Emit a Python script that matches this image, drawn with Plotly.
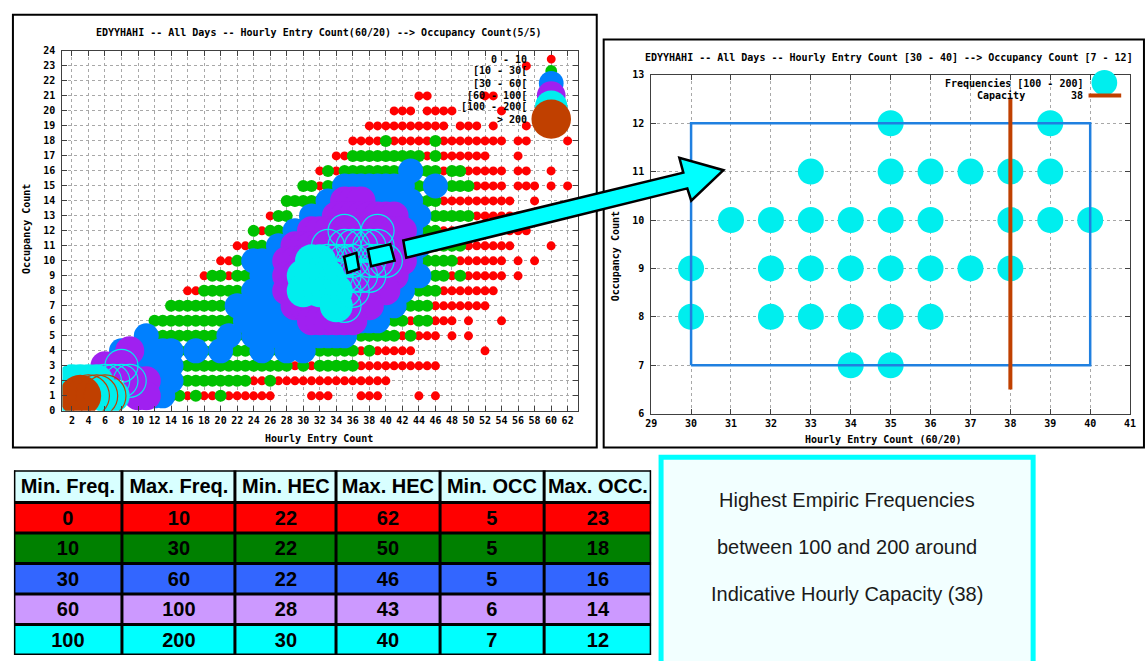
import plotly.graph_objects as go

W, H = 1146, 661

# ---------------- data: left chart (occupancy row, hourly entry counts) ----------------
RED_ROWS = [
    (23, [57]),
    (21, [44, 45, 52, 53]),
    (20, [41, 42, 43, 45, 46, 47, 48, 54]),
    (19, [38, 39, 40, 41, 42, 43, 44, 45, 46, 47, 49, 50, 51, 53, 57]),
    (18, [36, 37, 38, 39, 41, 42, 43, 44, 45, 47, 48, 49, 50, 51, 52, 53, 54, 56, 57, 62]),
    (17, [34, 35, 45, 47, 48, 49, 50, 51, 52, 56]),
    (16, [32, 34, 47, 50, 51, 52, 53, 54, 56, 57, 60]),
    (15, [32, 51, 52, 53, 54, 56, 57, 58, 60, 62]),
    (14, [47, 48, 49, 50, 51, 52, 53, 54, 55, 58]),
    (13, [26, 51, 52, 53, 54, 55, 56]),
    (12, [25, 47, 48, 49, 50, 51, 52, 53, 54, 55, 56, 57]),
    (11, [22, 23, 50, 51, 52, 53, 54, 55, 60]),
    (10, [20, 21, 49, 50, 51, 52, 53, 54, 56, 58]),
    (9, [18, 21, 48, 50, 51, 52, 53, 54, 56]),
    (8, [16, 17, 47, 48, 49, 50, 51, 52, 53]),
    (7, [46, 47, 48, 49, 50, 51, 52]),
    (6, [43, 46, 47, 48, 50, 54]),
    (5, [42, 44, 45, 46, 48, 50]),
    (4, [37, 39, 40, 41, 42, 43, 52]),
    (3, [29, 31, 37, 38, 39, 40, 41, 42, 43, 44, 45, 46]),
    (2, [24, 25, 27, 28, 29, 30, 31, 32, 33, 34, 35, 36, 37, 38, 39, 40]),
    (1, [16, 18, 19, 21, 22, 23, 24, 25, 26, 31, 32, 33, 37, 38, 39, 44, 46]),
]
GREEN_ROWS = [
    (18, [40, 46]),
    (17, [36, 37, 38, 39, 40, 41, 42, 43, 44, 46]),
    (16, [33, 35, 36, 37, 38, 39, 40, 41, 42, 43, 44, 45, 46, 48, 49]),
    (15, [30, 31, 33, 34, 43, 44, 45, 48, 49, 50]),
    (14, [28, 29, 30, 31, 32, 44, 45, 46]),
    (13, [27, 28, 46, 47, 48, 49, 50]),
    (12, [24, 26, 27, 44, 45, 46]),
    (11, [24, 25, 46, 47, 48, 49]),
    (10, [22, 45, 46, 47, 48]),
    (9, [19, 20, 22, 23, 46, 47, 49]),
    (8, [18, 19, 20, 21, 22, 44, 45, 46]),
    (7, [14, 15, 16, 17, 18, 19, 20, 41, 42, 43, 44, 45]),
    (6, [12, 13, 14, 15, 16, 17, 18, 19, 20, 21, 40, 41, 42, 44, 45]),
    (5, [12, 13, 14, 15, 16, 17, 18, 19, 20, 22, 23, 37, 38, 39, 40, 41, 43]),
    (4, [15, 16, 18, 19, 21, 22, 23, 24, 26, 27, 29, 31, 32, 33, 34, 35, 36, 38]),
    (3, [15, 16, 17, 18, 19, 20, 21, 22, 23, 24, 25, 26, 27, 28, 30, 32, 33, 34, 35, 36]),
    (2, [15, 16, 17, 18, 19, 20, 21, 22, 23, 26]),
    (1, [14, 15, 17, 20]),
]
BLUE_ROWS = [
    (16, [43]),
    (15, [35, 36, 37, 38, 39, 40, 41, 42, 46]),
    (14, [33, 34, 35, 36, 37, 38, 39, 40, 41, 42, 43]),
    (13, [31, 32, 33, 34, 35, 36, 37, 38, 39, 40, 41, 42, 43, 44]),
    (12, [29, 30, 31, 32, 33, 34, 35, 36, 37, 38, 39, 40, 41, 42, 43]),
    (11, [27, 28, 29, 30, 31, 32, 33, 34, 35, 36, 37, 38, 39, 40, 41, 42, 43, 44]),
    (10, [24, 25, 26, 27, 28, 29, 30, 31, 32, 33, 34, 35, 36, 37, 38, 39, 40, 41, 42, 43]),
    (9, [25, 26, 27, 28, 29, 30, 31, 32, 33, 34, 35, 36, 37, 38, 39, 40, 41, 42, 43, 44]),
    (8, [24, 25, 26, 27, 28, 29, 30, 31, 32, 33, 34, 35, 36, 37, 38, 39, 40, 41, 42]),
    (7, [22, 23, 24, 25, 26, 27, 28, 29, 30, 31, 32, 33, 34, 35, 36, 37, 38, 39, 40, 41]),
    (6, [23, 24, 25, 26, 27, 28, 29, 30, 31, 32, 33, 34, 35, 36, 37, 38, 39]),
    (5, [11, 21, 24, 25, 26, 27, 28, 29, 30, 31, 32, 33, 34, 35]),
    (4, [8, 10, 11, 12, 13, 14, 17, 20, 25, 28, 30]),
    (3, [11, 12, 13, 14]),
    (2, [12, 13, 14]),
    (1, [12, 13]),
]
PURPLE_ROWS = [
    (14, [35, 36, 37]),
    (13, [34, 35, 36, 37, 38, 39, 40, 41]),
    (12, [31, 32, 33, 34, 35, 36, 37, 38, 39, 40, 41, 42]),
    (11, [29, 30, 31, 32, 33, 34, 35, 36, 37, 38, 39, 40, 41, 42]),
    (10, [28, 29, 30, 31, 32, 33, 34, 35, 36, 37, 38, 39, 40, 41, 42]),
    (9, [28, 29, 30, 31, 32, 33, 34, 35, 36, 37, 38, 39, 40, 41]),
    (8, [28, 29, 30, 31, 32, 33, 34, 35, 36, 37, 38, 39, 40]),
    (7, [29, 30, 31, 32, 33, 34, 35, 36, 37, 38]),
    (6, [31, 32, 33, 34, 35, 36]),
    (4, [9]),
    (3, [6, 7, 8]),
    (2, [10, 11]),
    (1, [10, 11]),
]
CYAN_FILLED_ROWS = [
    (10, [31, 32]),
    (9, [30, 32, 33]),
    (8, [30, 32, 33, 34]),
    (7, [34]),
    (2, [2, 3, 4, 5]),
    (1, [1, 6, 7]),
]
CYAN_RING_ROWS = [
    (12, [35, 39]),
    (11, [33, 35, 36, 37, 38, 39]),
    (10, [33, 34, 35, 36, 38, 39, 40]),
    (9, [34, 35, 36, 37, 38]),
    (8, [35, 36]),
    (7, [35]),
    (3, [8]),
    (2, [6, 7, 8, 9]),
]
BROWN_FILLED_ROWS = [(1, [3])]
BROWN_RING_ROWS = [(1, [4, 5, 6])]

# ---------------- data: right chart, frequencies [100 - 200] ----------------
ZOOM_ROWS = [
    (12, [35, 39]),
    (11, [33, 35, 36, 37, 38, 39]),
    (10, [31, 32, 33, 34, 35, 36, 38, 39, 40]),
    (9, [30, 32, 33, 34, 35, 36, 37, 38]),
    (8, [30, 32, 33, 34, 35, 36]),
    (7, [34, 35]),
]
ZOOM_HEC = [30, 40]
ZOOM_OCC = [7, 12]
CAPACITY = 38
CAPACITY_SPAN = [6.5, 12.5]

LEGEND_LABELS = ["0 - 10", "[10 - 30[", "[30 - 60[", "[60 - 100[", "[100 - 200[", "> 200"]

# ---------------- data: table ----------------
TABLE_HEADER = ["Min. Freq.", "Max. Freq.", "Min. HEC", "Max. HEC", "Min. OCC", "Max. OCC."]
MIN_FREQ = [0, 10, 30, 60, 100]
MAX_FREQ = [10, 30, 60, 100, 200]
MIN_HEC = [22, 22, 22, 28, 30]
MAX_HEC = [62, 50, 46, 43, 40]
MIN_OCC = [5, 5, 5, 6, 7]
MAX_OCC = [23, 18, 16, 14, 12]

NOTE_LINES = ["Highest Empiric Frequencies", "between 100 and 200 around",
              "Indicative Hourly Capacity (38)"]

# ---------------- helpers ----------------
def expand(rows):
    xs, ys = [], []
    for yv, xlist in rows:
        for xv in xlist:
            xs.append(xv)
            ys.append(yv)
    return xs, ys

def px(v):
    return v / W

def py(v):
    return 1 - v / H

MONO = "DejaVu Sans Mono"
SANS = "Liberation Sans, Arial"
RED, GREEN, BLUE, PURPLE, CYAN, BROWN = "#ff0000", "#00c000", "#0080ff", "#a020f0", "#00eeee", "#c04000"

fig = go.Figure()

def add_pts(rows, color, size, axis, filled=True, lw=0):
    xs, ys = expand(rows)
    fig.add_trace(go.Scatter(
        x=xs, y=ys, mode="markers", xaxis="x" + axis, yaxis="y" + axis,
        marker=dict(symbol="circle" if filled else "circle-open", size=size, color=color,
                    line=dict(width=lw, color=color)),
        hoverinfo="x+y", showlegend=False))

add_pts(RED_ROWS, RED, 9, "")
add_pts(GREEN_ROWS, GREEN, 12, "")
add_pts(BLUE_ROWS, BLUE, 25, "")
add_pts(PURPLE_ROWS, PURPLE, 29, "")
add_pts(CYAN_FILLED_ROWS, CYAN, 33, "")
add_pts(CYAN_RING_ROWS, CYAN, 33, "", filled=False, lw=1.2)
add_pts(BROWN_FILLED_ROWS, BROWN, 42, "")
add_pts(BROWN_RING_ROWS, BROWN, 42, "", filled=False, lw=1.2)

# right chart
add_pts(ZOOM_ROWS, CYAN, 26, "2")
fig.add_trace(go.Scatter(
    x=[ZOOM_HEC[0], ZOOM_HEC[1], ZOOM_HEC[1], ZOOM_HEC[0], ZOOM_HEC[0]],
    y=[ZOOM_OCC[0], ZOOM_OCC[0], ZOOM_OCC[1], ZOOM_OCC[1], ZOOM_OCC[0]],
    mode="lines", line=dict(color="#2080e0", width=2.5), xaxis="x2", yaxis="y2",
    hoverinfo="skip", showlegend=False))
fig.add_trace(go.Scatter(
    x=[CAPACITY, CAPACITY], y=CAPACITY_SPAN, mode="lines",
    line=dict(color=BROWN, width=4), xaxis="x2", yaxis="y2",
    hoverinfo="skip", showlegend=False))

# table drawn as a heatmap of cells (header + 5 frequency classes)
COL_W = [109, 114, 102, 105, 105, 108]
ROW_H = [33, 31, 31, 31, 31, 31]
x_edges = [0]
for w in COL_W:
    x_edges.append(x_edges[-1] + w)
y_edges = [0]
for h in ROW_H:
    y_edges.append(y_edges[-1] + h)
cols = [MIN_FREQ, MAX_FREQ, MIN_HEC, MAX_HEC, MIN_OCC, MAX_OCC]
n_rows = len(MIN_FREQ)
z = [[0] * len(cols)] + [[i + 1] * len(cols) for i in range(n_rows)]
cell_text = [["<b>%s</b>" % h for h in TABLE_HEADER]] + \
            [["<b>%d</b>" % c[i] for c in cols] for i in range(n_rows)]
TABLE_COLORS = ["#d8ffff", "#ff0000", "#008000", "#3366ff", "#cc99ff", "#00ffff"]
fig.add_trace(go.Heatmap(
    x=x_edges, y=y_edges, z=z, text=cell_text, texttemplate="%{text}",
    textfont=dict(family=SANS, size=20, color="black"),
    colorscale=[[i / 5, c] for i, c in enumerate(TABLE_COLORS)], zmin=0, zmax=5,
    showscale=False, xaxis="x3", yaxis="y3", hoverinfo="skip"))

tickfont = dict(family=MONO, size=10, color="black", weight="bold")
axcommon = dict(showgrid=True, gridcolor="#a8a8a8", griddash="dot", gridwidth=1,
                showline=True, linecolor="#404040", linewidth=1, mirror="allticks",
                ticks="inside", ticklen=5, tickcolor="#404040", zeroline=False,
                tickfont=tickfont)
hidden = dict(showgrid=False, showline=False, zeroline=False, showticklabels=False, ticks="")

fig.update_layout(
    width=W, height=H, margin=dict(l=0, r=0, t=0, b=0),
    paper_bgcolor="white", plot_bgcolor="white", showlegend=False,
    xaxis=dict(domain=[px(57), px(578)], range=[0.85, 63.25], tickmode="linear",
               tick0=2, dtick=2, anchor="y", **axcommon),
    yaxis=dict(domain=[py(412.7), py(46.7)], range=[0, 24], tickmode="linear",
               tick0=0, dtick=1, anchor="x", ticklabelstandoff=4, **axcommon),
    xaxis2=dict(domain=[px(652), px(1136)], range=[29, 41], tickmode="linear",
                tick0=29, dtick=1, anchor="y2", **axcommon),
    yaxis2=dict(domain=[py(415.5), py(71)], range=[6, 13], tickmode="linear",
                tick0=6, dtick=1, anchor="x2", ticklabelstandoff=4, **axcommon),
    xaxis3=dict(domain=[px(8), px(652)], range=[x_edges[0], x_edges[-1]], anchor="y3", **hidden),
    yaxis3=dict(domain=[py(473 + y_edges[-1]), py(473)], range=[y_edges[-1], y_edges[0]],
                anchor="x3", **hidden),
)

ann = []
def text(x, y, s, size=10, xanchor="center", angle=0, family=MONO, weight="bold", color="black"):
    ann.append(dict(x=px(x), y=py(y), xref="paper", yref="paper", text=s, showarrow=False,
                    xanchor=xanchor, yanchor="middle", textangle=angle,
                    font=dict(family=family, size=size, color=color, weight=weight)))

text(316, 28, "EDYYHAHI -- All Days -- Hourly Entry Count(60/20) --> Occupancy Count(5/5)")
text(316, 441, "Hourly Entry Count")
text(20, 228, "Occupancy Count", angle=-90)
text(892, 53, "EDYYHAHI -- All Days -- Hourly Entry Count [30 - 40] --> Occupancy Count [7 - 12]")
text(887, 442, "Hourly Entry Count (60/20)")
text(616, 256, "Occupancy Count", angle=-90)

# left legend
leg_y = [55, 67, 79.5, 92, 103.5, 116]
leg_sizes = [9, 12, 25, 29, 33, 40]
leg_colors = [RED, GREEN, BLUE, PURPLE, CYAN, BROWN]
for lab, yy in zip(LEGEND_LABELS, leg_y):
    text(529, yy, lab, xanchor="right")

# right legend
text(1090, 80, "Frequencies [100 - 200]", xanchor="right")
text(1006, 92, "Capacity")
text(1090, 92, "38", xanchor="right")

for i, s in enumerate(NOTE_LINES):
    text(850, 503 + 48 * i, s, size=20, family=SANS, weight="normal", color="#1a1a1a")

shapes = []
# table grid lines
for xe in x_edges:
    shapes.append(dict(type="line", xref="x3", yref="y3", x0=xe, x1=xe, y0=y_edges[0], y1=y_edges[-1],
                       line=dict(color="black", width=3), layer="above"))
for ye in y_edges:
    shapes.append(dict(type="line", xref="x3", yref="y3", x0=x_edges[0], x1=x_edges[-1], y0=ye, y1=ye,
                       line=dict(color="black", width=3), layer="above"))
# frames
shapes.append(dict(type="rect", xref="paper", yref="paper", x0=px(7), x1=px(597), y0=py(450), y1=py(10),
                   line=dict(color="black", width=2), layer="above"))
shapes.append(dict(type="rect", xref="paper", yref="paper", x0=px(604), x1=px(1150), y0=py(450), y1=py(35),
                   line=dict(color="black", width=2), layer="above"))
# note box
shapes.append(dict(type="rect", xref="paper", yref="paper", x0=px(662), x1=px(1038), y0=py(680), y1=py(460),
                   line=dict(color="#00ffff", width=5), fillcolor="#f2ffff", layer="below"))
# legend circles (left)
for yy, s, c in zip(leg_y, leg_sizes, leg_colors):
    r = s / 2
    shapes.append(dict(type="circle", xref="paper", yref="paper",
                       x0=px(551 - r), x1=px(551 + r), y0=py(yy + r), y1=py(yy - r),
                       fillcolor=c, line=dict(width=0), layer="above"))
# right legend symbols
shapes.append(dict(type="circle", xref="paper", yref="paper", x0=px(1097), x1=px(1123), y0=py(92), y1=py(66),
                   fillcolor=CYAN, line=dict(width=0), layer="above"))
shapes.append(dict(type="line", xref="paper", yref="paper", x0=px(1094), x1=px(1127), y0=py(92), y1=py(92),
                   line=dict(color=BROWN, width=4), layer="above"))

def poly(pts):
    return "M " + " L ".join("%.5f,%.5f" % (px(a), py(b)) for a, b in pts) + " Z"

# zoom markers and arrow
shapes.append(dict(type="path", xref="paper", yref="paper",
                   path=poly([(341.7, 256), (354, 252), (356.7, 268.3), (345, 272.3)]),
                   fillcolor="#00ffff", line=dict(color="black", width=2.5), layer="above"))
shapes.append(dict(type="path", xref="paper", yref="paper",
                   path=poly([(365.7, 248.3), (388.3, 243.3), (392.7, 260), (369, 265.7)]),
                   fillcolor="#00ffff", line=dict(color="black", width=2.5), layer="above"))
shapes.append(dict(type="path", xref="paper", yref="paper",
                   path=poly([(401.5, 239.5), (684.5, 170.5), (680.5, 155.5), (725, 168),
                              (692.5, 199), (688.5, 186.5), (404.5, 257)]),
                   fillcolor="#00ffff", line=dict(color="black", width=2.5), layer="above"))

fig.update_layout(annotations=ann, shapes=shapes)
fig.write_html("out.html", config={"displayModeBar": False},
               post_script="document.body.style.margin='0';document.body.style.overflow='hidden';")
